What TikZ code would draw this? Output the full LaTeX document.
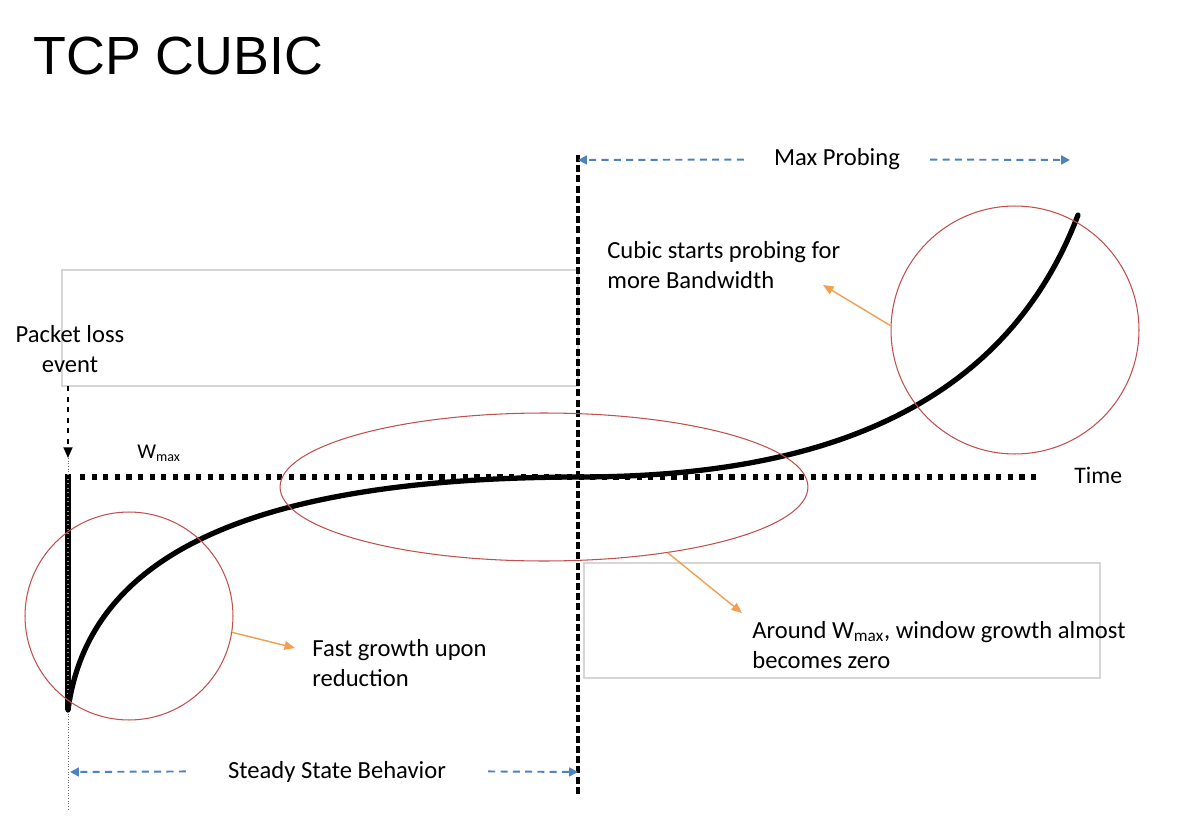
\documentclass[tikz,border=0pt]{standalone}
\usepackage{fontspec}
\setmainfont{Carlito}
\newfontfamily\titlefont{Liberation Sans}
\usetikzlibrary{positioning,calc,shapes.geometric,arrows.meta}
\definecolor{ringred}{HTML}{C0504D}
\definecolor{callorange}{HTML}{F0A050}
\definecolor{spanblue}{HTML}{4F81BD}

\begin{document}
\begin{tikzpicture}[x=0.02cm, y=-0.02cm,
    txt/.style={font=\fontsize{14}{17}\selectfont, inner sep=0, align=left},
    ring/.style={draw=ringred, line width=0.6pt, inner sep=0},
    callout/.style={draw=callorange, line width=0.8pt, -{Triangle[length=6pt,width=5pt]}},
    span/.style={draw=spanblue, line width=1.1pt, dash pattern=on 4pt off 3pt, -{Triangle[length=5pt,width=5pt]}},
    boxline/.style={draw=black!16, line width=1pt},
    divider/.style={line width=2.2pt, dash pattern=on 4pt off 1.8pt},
    wmaxline/.style={line width=3pt, dash pattern=on 3pt off 3.6pt},
    cwnd/.style={line width=3pt, line cap=round},
    guide/.style={draw=black!55, line width=0.5pt, densely dotted}]
	\useasboundingbox (0,0) rectangle (1204,828);

	% shadowed text boxes
	\draw[boxline] (62,270) rectangle (578,386);
	\draw[boxline] (584,563) rectangle (1100,678);

	% points on the axes
	\coordinate (losstop) at (68,386);
	\coordinate (losstip) at (68,458);
	\coordinate (guidefoot) at (68,810);
	\coordinate (droptop) at (68,474);
	\coordinate (lossbot) at (68,710);
	\coordinate (wmaxL) at (80,477);
	\coordinate (wmaxR) at (1040,477);
	\coordinate (inflect) at (578,477);
	\coordinate (curveend) at (1078,215);
	\coordinate (divtop) at (578,155);
	\coordinate (divbot) at (578,795);
	\coordinate (probeL) at (578,160);
	\coordinate (probeR) at (1070,160);
	\coordinate (steadyL) at (70,772);
	\coordinate (steadyR) at (578,772);

	\draw[guide] (losstip) -- (guidefoot);
	\draw[line width=3.2pt] (droptop) -- (lossbot);
	\draw[black!45, line width=0.6pt, dotted] (droptop) -- (lossbot);
	\draw[wmaxline] (wmaxL) -- (wmaxR);
	\draw[cwnd] (lossbot) .. controls (88,560) and (240,478) .. (inflect)
		.. controls (800,477) and (1000,420) .. (curveend);
	\draw[divider] (divtop) -- (divbot);
	\draw[dashed, line width=1pt, -{Triangle[length=6pt,width=5pt]}] (losstop) -- (losstip);

	% rings
	\node[ring, circle, minimum size=4.16cm] (fastring) at (129,616) {};
	\node[ring, ellipse, minimum width=10.56cm, minimum height=2.96cm] (flatring) at (544,487) {};
	\node[ring, circle, minimum size=4.96cm] (probering) at (1015,330) {};

	% texts
	\node[txt, anchor=base west, font=\titlefont\fontsize{30.6}{36}\selectfont] (title) at (33,75) {TCP CUBIC};
	\node[txt, anchor=base, align=center] (loss) at (70,372) {Packet loss\\event};
	\node[txt, anchor=base west] (probetxt) at (607,288) {Cubic starts probing for\\more Bandwidth};
	\node[txt, anchor=base west] (fasttxt) at (312,686) {Fast growth upon\\reduction};
	\node[txt, anchor=base west] (zerotxt) at (752,668) {Around W\textsubscript{max}, window growth almost\\becomes zero};
	\node[txt, anchor=base] (probe) at (837,166) {Max Probing};
	\node[txt, anchor=base] (steady) at (337,778) {Steady State Behavior};
	\node[txt, anchor=base west, font=\fontsize{13.5}{16}\selectfont] (time) at (1074,483) {Time};
	\node[txt, anchor=base west, font=\fontsize{12}{14}\selectfont] (wmax) at (137,458) {W\textsubscript{max}};

	% callouts
	\draw[callout] (fastring.-9) -- ($(fasttxt.base west)+(-17,-38)$);
	\draw[callout] (flatring.-28) -- ($(zerotxt.base west)+(-10,-55)$);
	\draw[callout] (probering.178) -- ($(probetxt.base west)+(216,-3)$);

	% spans
	\draw[span] ($(probe.west)+(-30,0)$) -- (probeL);
	\draw[span] ($(probe.east)+(30,0)$) -- (probeR);
	\draw[span] ($(steady.west)+(-42,0)$) -- (steadyL);
	\draw[span] ($(steady.east)+(42,0)$) -- (steadyR);
\end{tikzpicture}
\end{document}
